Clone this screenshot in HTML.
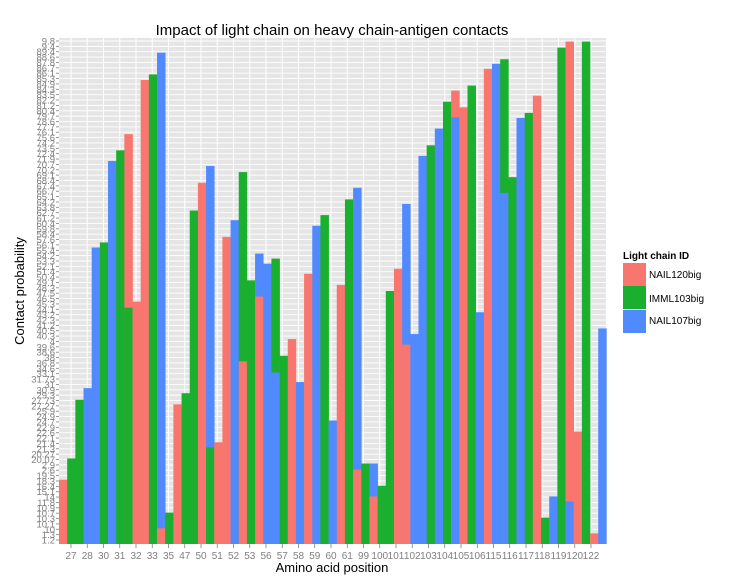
<!DOCTYPE html>
<html><head><meta charset="utf-8">
<style>
html,body{margin:0;padding:0;background:#fff;}
svg{display:block;font-family:"Liberation Sans",sans-serif;}
</style></head>
<body>
<svg id="chart" width="738" height="586" xmlns="http://www.w3.org/2000/svg">
  <rect x="0" y="0" width="738" height="586" fill="#fff"/>
  <text x="332" y="35" font-size="15" text-anchor="middle" fill="#000">Impact of light chain on heavy chain-antigen contacts</text>
  <rect x="59" y="38" width="547" height="506" fill="#e5e5e5"/>
  <g id="grid"></g>
  <g id="bars"></g>
  <g id="yaxis"></g>
  <g id="xaxis"></g>
  <text x="332" y="572" font-size="13" text-anchor="middle" fill="#000">Amino acid position</text>
  <text transform="translate(24,291) rotate(-90)" font-size="13" text-anchor="middle" fill="#000">Contact probability</text>
  <g>
    <text x="623" y="259" font-size="10" font-weight="bold" fill="#000">Light chain ID</text>
    <g>
      <rect x="623" y="263" width="23" height="23" fill="#f8766d"/>
      <text x="649" y="278" font-size="10" fill="#000">NAIL120big</text>
    </g>
    <g>
      <rect x="623" y="286" width="23" height="23" fill="#1aaf2e"/>
      <text x="649" y="302" font-size="10" fill="#000">IMML103big</text>
    </g>
    <g>
      <rect x="623" y="310" width="23" height="23" fill="#518aff"/>
      <text x="649" y="324" font-size="10" fill="#000">NAIL107big</text>
    </g>
  </g>
</svg>
<script>
const categories = ["27","28","30","31","32","33","35","47","50","51","52","53","56","57","58","59","60","61","99","100","101","102","103","104","105","106","115","116","117","118","119","120","122"];
const yLevels = ["1.2","1.3","10","10.1","10.3","10.7","10.9","11.8","14","15.1","16.4","18.3","19.5","2.6","2.9","20.07","20.27","21.3","21.4","22.1","22.6","22.9","24.7","24.9","25.9","27.27","27.73","29.3","30.9","31","31.73","33.1","34.6","36.8","38","38.6","39.6","4","40.3","40.5","41.2","42.3","43.2","44.1","45.3","46.5","47.5","48.3","49.1","50.4","51.4","52.1","53.3","54.2","55.4","56.1","57.6","58.4","59.8","60.4","61.2","62.7","63.8","64.2","65.1","66.7","67.4","68.4","69.1","70.2","70.7","71.9","72.4","73.5","74.2","75.6","76.1","77.7","78.6","79.7","80.4","81.2","82.2","83.5","84.3","84.9","85.3","86.1","86.7","87.8","88.6","89.4","9.4","9.8"];
// values (percent of axis height) per half-category bar slot; null = no bar
const nail120 = [12.7,null,null,null,null,null,null,null,81.0,47.9,91.7,null,3.1,null,27.6,null,null,71.4,null,20.1,60.7,null,36.1,null,48.9,null,null,null,40.5,null,53.4,null,null,null,51.2,null,14.7,null,9.4,null,null,54.4,39.4,null,null,null,null,null,89.6,86.3,null,null,93.9,null,null,null,null,null,88.6,null,null,null,99.3,22.2,null,2.1,null];
const imml103 = [null,16.9,28.5,null,null,59.6,null,77.8,46.7,null,null,92.8,null,6.2,null,29.8,65.9,null,19.1,null,null,null,73.5,52.1,null,null,56.4,37.2,null,null,null,null,65.0,null,null,68.1,null,15.9,null,11.5,50.0,null,null,null,null,78.8,null,87.4,null,null,90.6,null,null,null,95.8,72.5,null,85.2,null,5.2,null,98.1,null,null,99.3,null,null];
const nail107 = [null,null,null,30.8,58.6,null,75.7,null,null,null,null,null,97.1,null,null,null,null,null,74.7,null,null,64.0,null,null,57.4,55.4,33.9,null,null,32.0,null,62.9,null,24.4,null,null,70.4,null,15.9,null,null,null,67.2,41.5,76.7,null,82.1,null,84.3,null,null,45.8,null,94.9,69.4,null,84.2,null,null,null,9.4,null,8.4,null,null,null,42.6];

const NS = "http://www.w3.org/2000/svg";
const P = {left:59, right:606, top:38, bottom:544};
const slotW = 8.17;
function xSlot(i){ return P.left + i*slotW; }
function xCat(i){ return 71 + i*16.25; }
function yVal(v){ return P.bottom - v/100*(P.bottom-P.top); }
function yLevel(i){ return P.bottom - 4 - i*(P.bottom-P.top-7)/(yLevels.length-1); }
function mk(tag, attrs, parent){ const e=document.createElementNS(NS,tag); for(const k in attrs) e.setAttribute(k,attrs[k]); parent.appendChild(e); return e; }

const grid = document.getElementById('grid');
yLevels.forEach((lab,i)=>{
  const l = mk('line',{x1:P.left,x2:P.right,y1:yLevel(i),y2:yLevel(i),stroke:'#fff','stroke-width':0.9},grid);
  
  
});
categories.forEach((c,i)=>{
  const l = mk('line',{x1:xCat(i),x2:xCat(i),y1:P.top,y2:P.bottom,stroke:'#fff','stroke-width':1},grid);
  
  
});

const bars = document.getElementById('bars');
const series = [{name:'nail120big',vals:nail120,color:'#f8766d'},{name:'imml103big',vals:imml103,color:'#1aaf2e'},{name:'nail107big',vals:nail107,color:'#518aff'}];
for(let s=0;s<nail120.length;s++){
  const items=[];
  series.forEach(se=>{ if(se.vals[s]!=null) items.push({v:se.vals[s],se:se}); });
  items.sort((a,b)=>b.v-a.v);
  items.forEach(it=>{
    const y=yVal(it.v);
    const r = mk('rect',{x:xSlot(s),y:y,width:slotW+0.3,height:P.bottom-y,fill:it.se.color},bars);
    
    
  });
}

const ya = document.getElementById('yaxis');
yLevels.forEach((lab,i)=>{
  const y=yLevel(i);
  const t = mk('line',{x1:P.left-3,x2:P.left,y1:y,y2:y,stroke:'#7f7f7f','stroke-width':0.8},ya);
  
  
  const tx = mk('text',{x:P.left-4,y:y+3.5,'font-size':9.5,'text-anchor':'end',fill:'#7f7f7f'},ya);
  tx.textContent=lab;
  
  
});
const xa = document.getElementById('xaxis');
categories.forEach((c,i)=>{
  const x=xCat(i);
  const t = mk('line',{x1:x,x2:x,y1:P.bottom,y2:P.bottom+4,stroke:'#7f7f7f','stroke-width':0.8},xa);
  
  
  const tx = mk('text',{x:x,y:P.bottom+15,'font-size':10,'text-anchor':'middle',fill:'#7f7f7f'},xa);
  tx.textContent=c;
  
  
});
</script>
</body></html>
